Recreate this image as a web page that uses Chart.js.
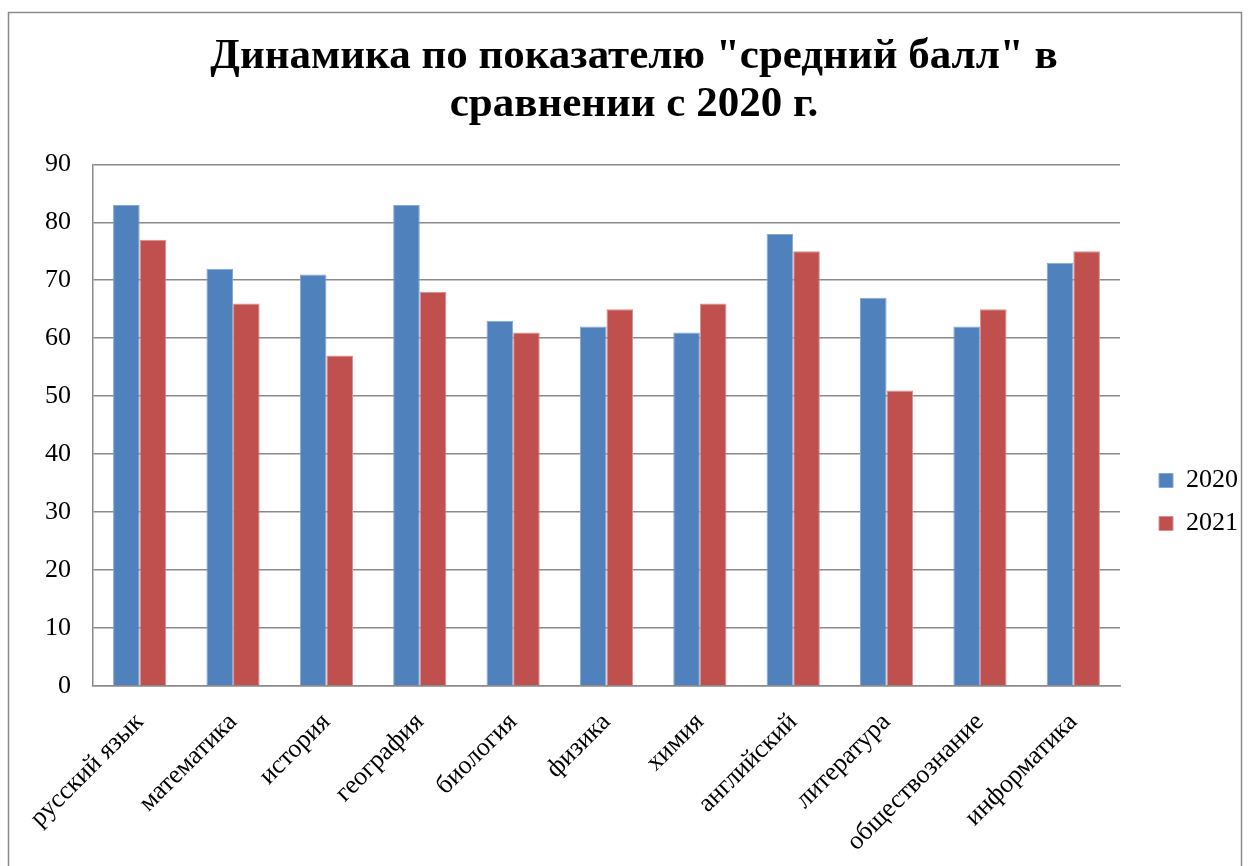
<!DOCTYPE html>
<html lang="ru">
<head>
<meta charset="utf-8">
<title>Динамика по показателю "средний балл"</title>
<script src="https://cdn.jsdelivr.net/npm/chart.js@4/dist/chart.umd.min.js"></script>
<style>
    html, body { margin: 0; padding: 0; background: #fff; }
    #wrap { width: 1250px; height: 866px; }
</style>
</head>
<body>
<div id="wrap"><canvas id="scoreChart" width="1250" height="866"></canvas></div>
<script>
const subjects = [
    'русский язык', 'математика', 'история', 'география', 'биология', 'физика',
    'химия', 'английский', 'литература', 'обществознание', 'информатика'
];
const scores2020 = [83, 72, 71, 83, 63, 62, 61, 78, 67, 62, 73];
const scores2021 = [77, 66, 57, 68, 61, 65, 66, 75, 51, 65, 75];
const seriesLabels = ['2020', '2021'];
const titleLines = ['Динамика по показателю "средний балл" в', 'сравнении с 2020 г.'];
const yTicks = [0, 10, 20, 30, 40, 50, 60, 70, 80, 90];

const FONT = "'Liberation Serif', 'Times New Roman', serif";
const GRID = '#8a8a8a';

// white page + grey frame like the office chart
const framePlugin = {
    id: 'frame',
    beforeDraw(chart) {
        const ctx = chart.ctx;
        ctx.save();
        ctx.fillStyle = '#fff';
        ctx.fillRect(0, 0, chart.width, chart.height);
        ctx.strokeStyle = GRID;
        ctx.lineWidth = 1.5;
        ctx.strokeRect(8.5, 12.5, 1233, 900);
        ctx.restore();
    }
};

// legend sits a bit off the plot and lower than centre
const legendNudge = {
    id: 'legendNudge',
    afterLayout(chart) {
        const lg = chart.legend;
        if (!lg) return;
        lg.left += 22;
        lg.right += 22;
        lg.top += 63;
        lg.bottom += 63;
    }
};

function drawScoreChart() {
    const ctx = document.getElementById('scoreChart').getContext('2d');

    new Chart(ctx, {
        type: 'bar',
        data: {
            labels: subjects,
            datasets: [{
                label: seriesLabels[0],
                data: scores2020,
                backgroundColor: '#4f81bd',
                borderColor: '#86a6d3',
                borderWidth: 1
            }, {
                label: seriesLabels[1],
                data: scores2021,
                backgroundColor: '#c0504d',
                borderColor: '#d98f8d',
                borderWidth: 1
            }]
        },
        plugins: [framePlugin, legendNudge],
        options: {
            responsive: false,
            animation: false,
            devicePixelRatio: 1,
            layout: {
                padding: { left: 42, top: 12, right: 24, bottom: 0 }
            },
            datasets: {
                bar: {
                    categoryPercentage: 0.57,
                    barPercentage: 1
                }
            },
            plugins: {
                title: {
                    display: true,
                    text: titleLines,
                    color: '#000',
                    font: { family: FONT, size: 43, weight: 'bold', lineHeight: 1.12 },
                    padding: { top: 21, bottom: 35 }
                },
                legend: {
                    position: 'right',
                    labels: {
                        color: '#000',
                        font: { family: FONT, size: 26 },
                        boxWidth: 14,
                        boxHeight: 14,
                        padding: 17
                    }
                },
                tooltip: { enabled: false }
            },
            scales: {
                x: {
                    grid: { display: false, drawTicks: false },
                    border: { display: true, color: GRID, width: 1.5 },
                    ticks: {
                        color: '#000',
                        font: { family: FONT, size: 26 },
                        maxRotation: 45,
                        minRotation: 45,
                        autoSkip: false,
                        padding: 21
                    },
                    afterFit(scale) {
                        scale.height = 180;
                    }
                },
                y: {
                    min: yTicks[0],
                    max: yTicks[yTicks.length - 1],
                    grid: { color: GRID, lineWidth: 1.5, drawTicks: false },
                    border: { display: true, color: GRID, width: 1.5 },
                    ticks: {
                        stepSize: yTicks[1] - yTicks[0],
                        color: '#000',
                        font: { family: FONT, size: 26 },
                        padding: 22
                    },
                    afterFit(scale) {
                        scale.width = 51;
                    }
                }
            }
        }
    });
}

window.addEventListener('DOMContentLoaded', () => {
    drawScoreChart();
});
</script>
</body>
</html>
